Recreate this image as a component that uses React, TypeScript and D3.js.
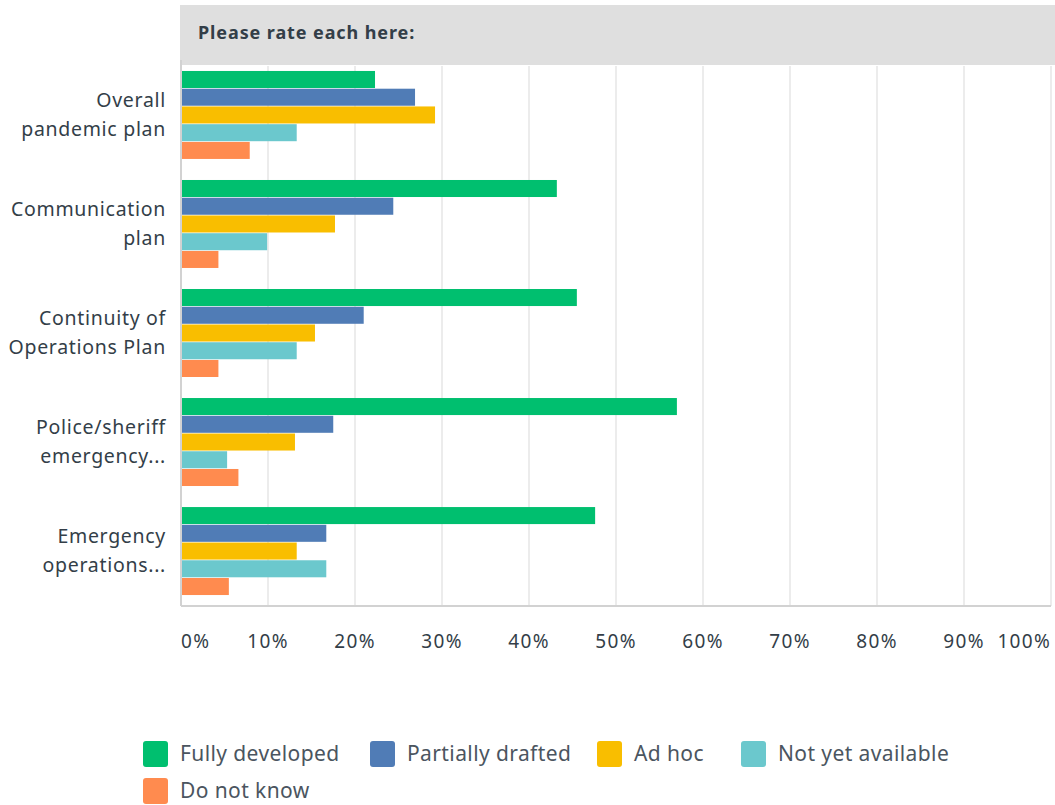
import React from 'react';
import * as d3 from 'd3';

const categories: string[][] = [
  ['Overall', 'pandemic plan'],
  ['Communication', 'plan'],
  ['Continuity of', 'Operations Plan'],
  ['Police/sheriff', 'emergency...'],
  ['Emergency', 'operations...'],
];

const seriesNames = ['Fully developed', 'Partially drafted', 'Ad hoc', 'Not yet available', 'Do not know'];
const seriesColors = ['#00bf6f', '#507cb6', '#f9be00', '#6bc8cd', '#ff8b4f'];

const fullyDeveloped = [22.3, 43.2, 45.5, 57.0, 47.6];
const partiallyDrafted = [26.9, 24.4, 21.0, 17.5, 16.7];
const adHoc = [29.2, 17.7, 15.4, 13.1, 13.3];
const notYetAvailable = [13.3, 9.9, 13.3, 5.3, 16.7];
const doNotKnow = [7.9, 4.3, 4.3, 6.6, 5.5];

const tickValues = [0, 10, 20, 30, 40, 50, 60, 70, 80, 90, 100];

const W = 1055;
const H = 805;
const textColor = '#333e48';
const font = '"Noto Sans", sans-serif';

export default function App() {
  const series = [fullyDeveloped, partiallyDrafted, adHoc, notYetAvailable, doNotKnow];

  const x = d3.scaleLinear().domain([0, 100]).range([181, 1051]);
  const y = d3.scaleBand<number>()
    .domain(d3.range(categories.length))
    .range([60.5, 605.5])
    .paddingInner(0.193)
    .paddingOuter(0.096);
  const ySub = d3.scaleBand<number>()
    .domain(d3.range(seriesNames.length))
    .range([0, y.bandwidth()])
    .paddingInner(0.04);

  const plotTop = 66;
  const plotBottom = 606;

  const legendRows = [
    [0, 1, 2, 3],
    [4],
  ];
  const legendX = [143, 370, 597, 741];

  return (
    <div style={{ position: 'absolute', left: 0, top: 0 }}>
      <svg width={W} height={H} style={{ display: 'block', fontFamily: font }}>
        <rect x={0} y={0} width={W} height={H} fill="#fff" />
        {/* header band */}
        <rect x={180} y={5} width={W - 180} height={60} fill="#dfdfdf" />
        <text x={198} y={39} fontSize={18} fontWeight={700} letterSpacing={0.9} fill={textColor}>
          Please rate each here:
        </text>

        {/* gridlines */}
        {tickValues.slice(1).map(t => (
          <line key={t} x1={x(t)} x2={x(t)} y1={plotTop} y2={plotBottom} stroke="#ececec" strokeWidth={2} />
        ))}

        {/* bars */}
        {categories.map((_, ci) => (
          <g key={ci} transform={`translate(0,${y(ci)})`}>
            {series.map((vals, si) => (
              <rect
                key={si}
                x={x(0)}
                y={ySub(si)}
                width={x(vals[ci]) - x(0)}
                height={ySub.bandwidth()}
                fill={seriesColors[si]}
              />
            ))}
          </g>
        ))}

        {/* axes lines */}
        <line x1={x(0)} x2={x(0)} y1={60} y2={plotBottom} stroke="#d2d2d2" strokeWidth={2} />
        <line x1={x(0)} x2={x(100)} y1={plotBottom} y2={plotBottom} stroke="#d2d2d2" strokeWidth={2} />

        {/* category labels */}
        {categories.map((lines, ci) => {
          const cy = (y(ci) ?? 0) + y.bandwidth() / 2;
          return (
            <text key={ci} x={166} textAnchor="end" fontSize={19.5} letterSpacing={0.7} fill={textColor}>
              {lines.map((l, li) => (
                <tspan key={li} x={166} y={cy - 15 + li * 29 + 7}>{l}</tspan>
              ))}
            </text>
          );
        })}

        {/* tick labels */}
        {tickValues.map((t, i) => (
          <text
            key={t}
            x={x(t)}
            y={648}
            fontSize={19}
            letterSpacing={1.3}
            fill={textColor}
            textAnchor={i === 0 ? 'start' : i === tickValues.length - 1 ? 'end' : 'middle'}
          >
            {t}%
          </text>
        ))}

        {/* legend */}
        {legendRows.map((row, ri) =>
          row.map((si, k) => {
            const lx = legendX[k];
            const ly = 741 + ri * 37;
            return (
              <g key={si}>
                <rect x={lx} y={ly} width={25} height={26} rx={3} fill={seriesColors[si]} />
                <text x={lx + 37} y={ly + 20} fontSize={21} letterSpacing={0.4} fill="#4b5560">
                  {seriesNames[si]}
                </text>
              </g>
            );
          })
        )}
      </svg>
    </div>
  );
}
